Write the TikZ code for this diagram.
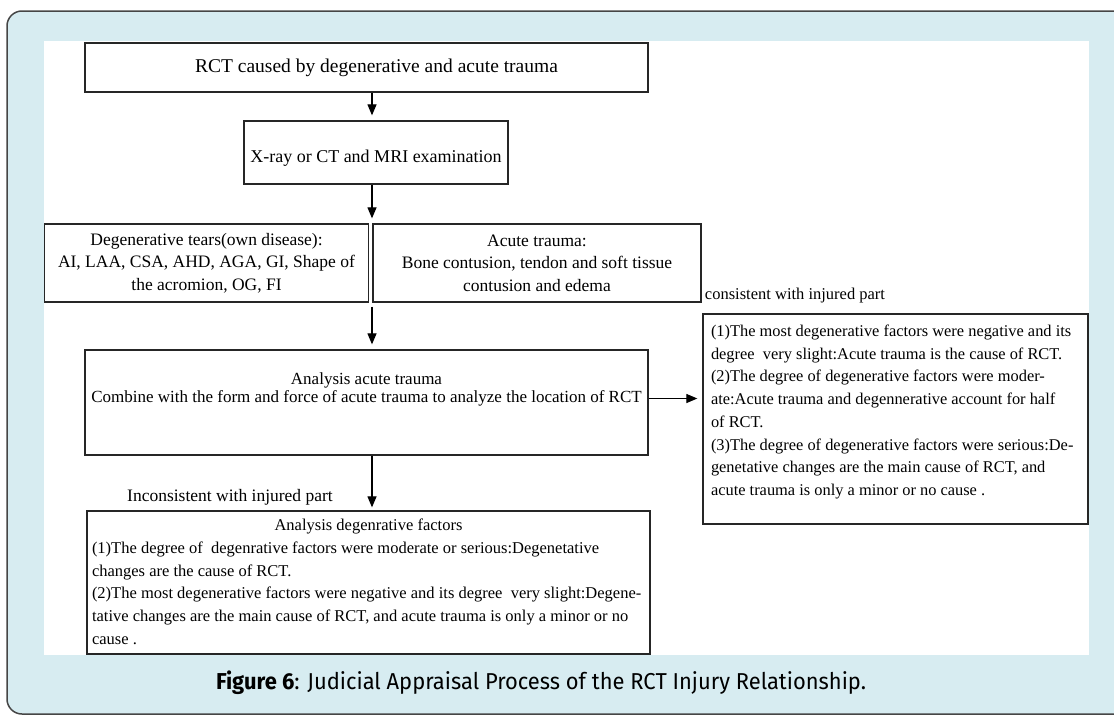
\documentclass[tikz,border=0pt]{standalone}
\usepackage{graphicx}
\usepackage{fontspec}
\setmainfont{Liberation Serif}
\newfontfamily\capfont{Fira Sans}
\usetikzlibrary{arrows.meta}
\definecolor{framebg}{RGB}{215,236,241}
\definecolor{frameline}{RGB}{70,70,70}
\begin{document}
\begin{tikzpicture}[x=1pt,y=-1pt,
    every node/.style={font=\fontsize{17.5}{22.5}\selectfont},
    box/.style={draw=black!85,line width=1.3pt,inner sep=0pt,fill=white},
    arr/.style={-{Triangle[width=9pt,length=11pt]},line width=1.2pt,shorten >=5pt}]
    \useasboundingbox (0,0) rectangle (1114,715);
    % frame and white sheet
    \draw[frameline,fill=framebg,line width=1.5pt,rounded corners=15pt] (7,11) rectangle (1140,714);
    \fill[white] (44,41) rectangle (1089,655);
    \coordinate (axis) at (372,0);
    % boxes
    \node[box,minimum width=563,minimum height=49,font=\fontsize{19.5}{22.5}\selectfont] (cause) at (366.5,67.5)
        {\hspace*{20pt}RCT caused by degenerative and acute trauma};
    \node[box,minimum width=264,minimum height=63,font=\fontsize{18}{22.5}\selectfont] (exam) at (376,152.5)
        {\raisebox{-6pt}[\height][\depth]{X-ray or CT and MRI examination}};
    \node[box,minimum width=324,minimum height=78,align=center] (degen) at (206.5,263)
        {Degenerative tears(own disease):\\AI, LAA, CSA, AHD, AGA, GI, Shape of\\the acromion, OG, FI};
    \node[box,minimum width=328,minimum height=78,align=center] (acute) at (537,263)
        {Acute trauma:\\Bone contusion, tendon and soft tissue\\contusion and edema};
    \node[box] (analysis) at (366.5,402.5) {\parbox[c][105pt][t]{563pt}{\centering\fontsize{17}{18}\selectfont
        \vspace*{23pt}Analysis acute trauma\\Combine with the form and force of acute trauma to analyze the location of RCT}};
    \node[box] (consist) at (895.5,419) {\parbox[c][210pt][t]{385pt}{\fontsize{16.4}{22.7}\selectfont
        \raggedright\leftskip=8pt
        \vspace*{11pt}(1)The most degenerative factors were negative and its\\
        degree~ very slight:Acute trauma is the cause of RCT.\\
        (2)The degree of degenerative factors were moder-\\
        ate:Acute trauma and degennerative account for half\\
        of RCT.\\
        (3)The degree of degenerative factors were serious:De-\\
        genetative changes are the main cause of RCT, and\\
        acute trauma is only a minor or no cause .}};
    \node[box] (degfac) at (368.5,582.5) {\parbox[c][143pt][t]{563pt}{\fontsize{16.5}{22.7}\selectfont
        \vspace*{8pt}%
        {\centering Analysis degenrative factors\par}\raggedright\leftskip=5pt
        (1)The degree of~ degenrative factors were moderate or serious:Degenetative\\
        changes are the cause of RCT.\\
        (2)The most degenerative factors were negative and its degree~ very slight:Degene-\\
        tative changes are the main cause of RCT, and acute trauma is only a minor or no\\
        cause .}};
    % labels
    \node[font=\fontsize{16.5}{20}\selectfont] (yes) at (795,296) {consistent with injured part};
    \node (no) at (230,497) {Inconsistent with injured part};
    \node (caption) at (541,683) {\capfont\fontsize{23}{23}\selectfont\resizebox{650pt}{\height}{\textbf{Figure 6}: Judicial Appraisal Process of the RCT Injury Relationship.}};
    % arrows
    \draw[arr] (cause.south -| axis) -- (exam.north -| axis);
    \draw[arr] (exam.south -| axis) -- (degen.north -| axis);
    \draw[arr,shorten <=4pt] (degen.south -| axis) -- (analysis.north -| axis);
    \draw[arr] ([yshift=4pt]analysis.east) -- ([yshift=4pt]consist.west |- analysis.east);
    \draw[arr,shorten >=3pt] (analysis.south -| axis) -- (degfac.north -| axis);
\end{tikzpicture}
\end{document}
